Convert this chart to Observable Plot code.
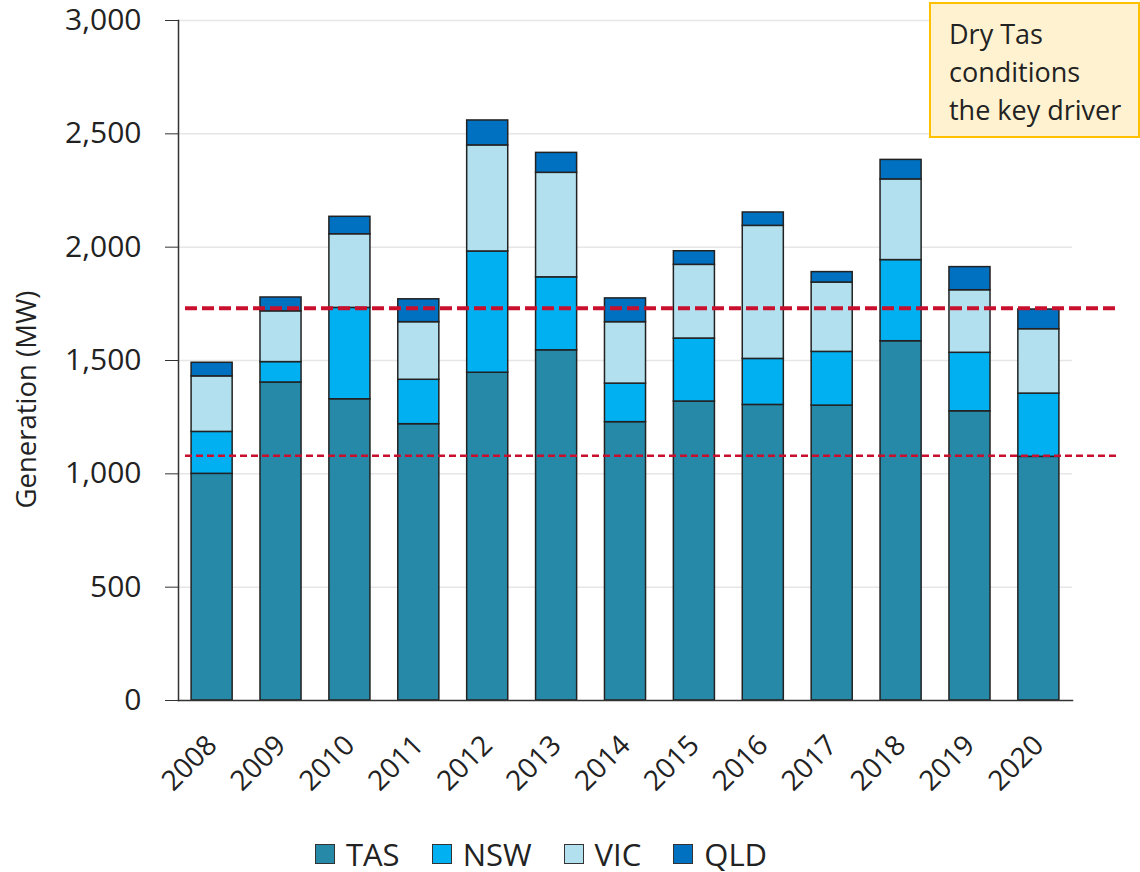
<!DOCTYPE html>
<html>
<head>
<meta charset="utf-8">
<script src="https://cdn.jsdelivr.net/npm/d3@7"></script>
<script src="https://cdn.jsdelivr.net/npm/@observablehq/plot@0.6"></script>
<style>
  html, body { margin: 0; padding: 0; background: #fff; }
  #wrap { position: relative; width: 1140px; height: 872px; font-family: "Open Sans", sans-serif; color: #222; }
  #note { position: absolute; left: 929px; top: 2px; width: 211px; height: 136px; box-sizing: border-box;
          background: #fff2d0; border: 2px solid #ffc000; padding: 11px 0 0 18px; font-size: 27px; line-height: 38px; color: #222; }
  #legend { position: absolute; left: 0; top: 838px; width: 1082px; display: flex; justify-content: center; gap: 32px; font-size: 31px; line-height: 32px; }
  .item { display: flex; align-items: center; gap: 11px; }
  .sw { width: 18px; height: 18px; border: 1.5px solid #333; }
</style>
</head>
<body>
<div id="wrap">
  <div id="chart"></div>
  <div id="note">Dry Tas<br>conditions<br>the key driver</div>
  <div id="legend"></div>
</div>
<script>
const years = [2008, 2009, 2010, 2011, 2012, 2013, 2014, 2015, 2016, 2017, 2018, 2019, 2020];
const regions = ["TAS", "NSW", "VIC", "QLD"];
const colors = ["#2789a8", "#00b0f0", "#b3e0ee", "#0070c0"];
const tas = [1000, 1403, 1329, 1219, 1446, 1545, 1228, 1319, 1304, 1301, 1585, 1276, 1075];
const nsw = [185, 90, 403, 196, 535, 322, 170, 278, 203, 237, 358, 258, 279];
const vic = [245, 224, 325, 254, 468, 461, 271, 325, 587, 306, 356, 276, 284];
const qld = [60, 61, 77, 101, 110, 88, 105, 60, 59, 46, 86, 102, 87];
const upperLine = [1731];
const lowerLine = [1080];
const yTicks = [0, 500, 1000, 1500, 2000, 2500, 3000];

const series = [tas, nsw, vic, qld];
const data = [];
years.forEach((yr, i) => {
  regions.forEach((r, j) => data.push({year: yr, region: r, value: series[j][i]}));
});

const chart = Plot.plot({
  width: 1140,
  height: 820,
  marginLeft: 178,
  marginRight: 68,
  marginTop: 20,
  marginBottom: 120,
  style: {fontFamily: "Open Sans, sans-serif", fontSize: "28px", color: "#222", background: "transparent"},
  x: {domain: years, paddingInner: 0.404, paddingOuter: 0.19, round: false},
  y: {domain: [0, 3000]},
  color: {domain: regions, range: colors},
  marks: [
    Plot.gridY(yTicks.slice(1), {stroke: "#e6e6e6", strokeOpacity: 1, strokeWidth: 1.5}),
    Plot.barY(data, {x: "year", y: "value", fill: "region", stroke: "#222", strokeWidth: 1.5}),
    Plot.ruleY(upperLine, {stroke: "#c8102e", strokeWidth: 4, strokeDasharray: "12,5", insetLeft: 7, insetRight: -46}),
    Plot.ruleY(lowerLine, {stroke: "#c8102e", strokeWidth: 2.5, strokeDasharray: "7,4", insetLeft: 7, insetRight: -46}),
    Plot.frame({anchor: "left", stroke: "#333", strokeWidth: 1.5}),
    Plot.frame({anchor: "bottom", stroke: "#333", strokeWidth: 1.5}),
    Plot.axisY({ticks: yTicks, tickFormat: d3.format(","), tickSize: 13, tickPadding: 24, fontSize: 30,
                label: null, stroke: "#333"}),
    Plot.axisY({ticks: [], tickSize: 0, fontSize: 25,
                label: "Generation (MW)", labelAnchor: "center", labelArrow: "none", labelOffset: 162}),
    Plot.axisX({tickSize: 0, tickRotate: -45, tickPadding: 40, dx: 0, fontSize: 28, label: null, tickFormat: d => String(d)})
  ]
});
const lab = d3.select(chart).select('[aria-label="y-axis label"]');
lab.selectAll("text").attr("font-size", 27.5).style("font-size", "27.5px");
lab.attr("transform", ((lab.attr("transform") || "") + " translate(0,39)").trim());
document.getElementById("chart").appendChild(chart);

const legend = document.getElementById("legend");
regions.forEach((r, i) => {
  const it = document.createElement("div");
  it.className = "item";
  const sw = document.createElement("div");
  sw.className = "sw";
  sw.style.background = colors[i];
  const t = document.createElement("span");
  t.textContent = r;
  it.appendChild(sw); it.appendChild(t);
  legend.appendChild(it);
});
</script>
</body>
</html>
